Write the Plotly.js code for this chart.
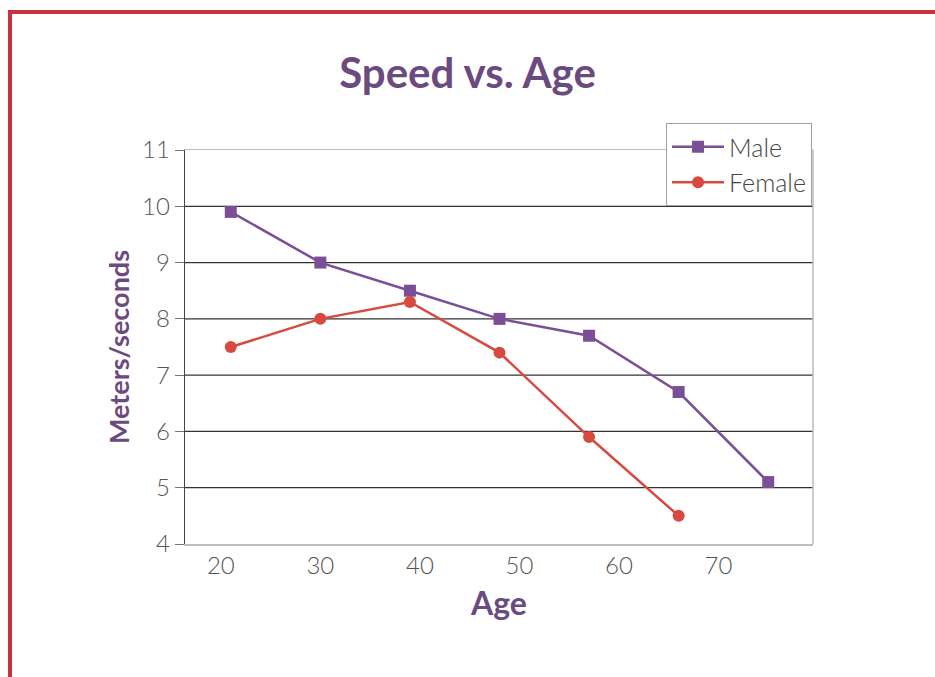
<!DOCTYPE html>
<html>
<head>
<meta charset="utf-8">
<script src="https://cdn.plot.ly/plotly-3.0.1.min.js"></script>
<style>
  html, body { margin: 0; padding: 0; background: #ffffff; overflow: hidden; }
  #frame { position: absolute; left: 8px; top: 10px; width: 1000px; height: 1000px;
           border-left: 4px solid #c8323f; border-top: 4px solid #c8323f; }
  #chart { position: absolute; left: 0; top: 0; width: 935px; height: 677px; }
</style>
</head>
<body>
<div id="frame"></div>
<div id="chart"></div>
<script>
// Data
const maleAges = [21, 30, 39, 48, 57, 66, 75];
const maleSpeed = [9.9, 9.0, 8.5, 8.0, 7.7, 6.7, 5.1];
const femaleAges = [21, 30, 39, 48, 57, 66];
const femaleSpeed = [7.5, 8.0, 8.3, 7.4, 5.9, 4.5];
const xTicks = [20, 30, 40, 50, 60, 70];
const yTicks = [4, 5, 6, 7, 8, 9, 10, 11];
const gridVals = [5, 6, 7, 8, 9, 10];

const purple = '#7a4f96';
const red = '#d8493f';
const titlePurple = '#6b4a80';
const tickFont = {family: 'Lato, "Open Sans", sans-serif', size: 24, color: '#555555', weight: 300};

const traces = [
  {x: maleAges, y: maleSpeed, name: 'Male', type: 'scatter', mode: 'lines+markers',
   line: {color: purple, width: 2.5}, marker: {symbol: 'square', size: 12, color: purple}},
  {x: femaleAges, y: femaleSpeed, name: 'Female', type: 'scatter', mode: 'lines+markers',
   line: {color: red, width: 2.5}, marker: {symbol: 'circle', size: 12, color: red}}
];

const shapes = gridVals.map(v => ({
  type: 'line', xref: 'paper', x0: 0, x1: 1, yref: 'y', y0: v, y1: v,
  line: {color: '#333333', width: 1.3}, layer: 'below'
}));
shapes.push({type: 'line', xref: 'paper', x0: 1, x1: 1, yref: 'paper', y0: 0, y1: 1,
  line: {color: '#bdbdbd', width: 1.5}, layer: 'below'});

const layout = {
  width: 935, height: 677,
  margin: {l: 185, r: 122, t: 150, b: 133},
  paper_bgcolor: 'rgba(0,0,0,0)', plot_bgcolor: 'rgba(0,0,0,0)',
  title: {text: 'Speed vs. Age', x: 0.5, xanchor: 'center', y: 0.892, yanchor: 'middle', yref: 'container',
          font: {family: 'Lato, "Open Sans", sans-serif', size: 42, color: titlePurple, weight: 700}},
  xaxis: {range: [16.4, 79.5], tickvals: xTicks, ticktext: xTicks.map(String),
          showgrid: false, zeroline: false, showline: true, linecolor: '#bdbdbd', linewidth: 1.5, mirror: true,
          ticks: '', tickfont: tickFont, ticklabelstandoff: 0,
          title: {text: 'Age', standoff: 14, font: {family: 'Lato, "Open Sans", sans-serif', size: 32, color: titlePurple, weight: 700}}},
  yaxis: {range: [4, 11], tickvals: yTicks, ticktext: yTicks.map(String),
          showgrid: false, zeroline: false, showline: true, linecolor: '#444444', linewidth: 1.3,
          ticks: 'outside', ticklen: 9, tickcolor: '#777777', tickwidth: 1, tickfont: tickFont,
          title: {text: 'Meters/seconds', standoff: 4, font: {family: 'Lato, "Open Sans", sans-serif', size: 27, color: titlePurple, weight: 700}}},
  shapes: shapes,
  showlegend: true,
  legend: {x: 0.766, xanchor: 'left', y: 1.0685, yanchor: 'top', bgcolor: '#ffffff',
           bordercolor: '#a0a0a0', borderwidth: 1, itemwidth: 52,
           font: {family: 'Lato, "Open Sans", sans-serif', size: 25, color: '#444444', weight: 300},
           tracegroupgap: 0}
};

Plotly.newPlot('chart', traces, layout, {displayModeBar: false, staticPlot: true});
</script>
</body>
</html>
